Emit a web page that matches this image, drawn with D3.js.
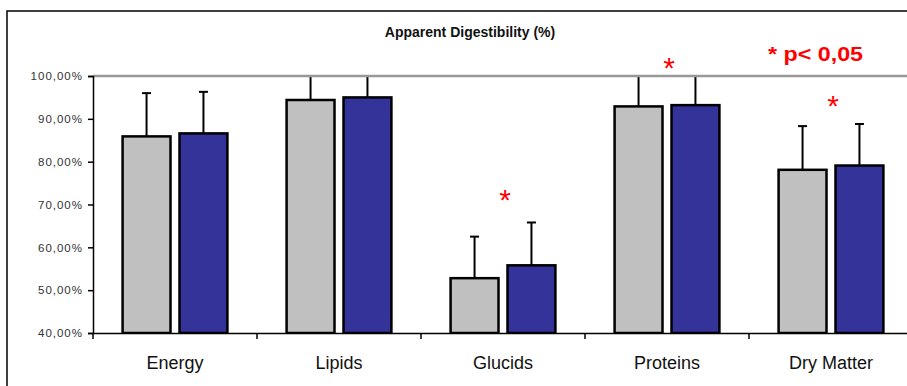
<!DOCTYPE html>
<html>
<head>
<meta charset="utf-8">
<script src="https://cdn.jsdelivr.net/npm/d3@7"></script>
<style>
body { margin: 0; background: #fff; }
svg { display: block; }
</style>
</head>
<body>
<svg width="907" height="386"></svg>
<script>
// values (fractions)
var categories = ["Energy", "Lipids", "Glucids", "Proteins", "Dry Matter"];
var series = ["gray", "blue"];
var grayValues = [0.859, 0.944, 0.528, 0.929, 0.781];
var blueValues = [0.866, 0.950, 0.558, 0.932, 0.791];
var graySD = [0.101, 0.08, 0.097, 0.09, 0.102];
var blueSD = [0.097, 0.08, 0.100, 0.09, 0.097];
// significance marks and the level they sit at
var starCats = ["Glucids", "Proteins", "Dry Matter"];
var starLevels = [0.7245, 1.033, 0.944];
var yTicks = [0.4, 0.5, 0.6, 0.7, 0.8, 0.9, 1.0];

var colors = {gray: "#c0c0c0", blue: "#333399"};
var font = "'Liberation Sans', Arial, sans-serif";

var svg = d3.select("svg");

// outer frame (right and bottom edges fall off the picture)
svg.append("rect")
  .attr("x", 7).attr("y", 11)
  .attr("width", 1000).attr("height", 1000)
  .attr("fill", "none")
  .attr("stroke", "#000")
  .attr("stroke-width", 1.5);

svg.append("text")
  .attr("x", 470).attr("y", 37)
  .attr("text-anchor", "middle")
  .attr("font-family", font)
  .attr("font-weight", "bold")
  .attr("font-size", 14)
  .attr("fill", "#111")
  .text("Apparent Digestibility (%)");

var xScale = d3.scaleBand().domain(categories).range([93, 913]);
var inner = d3.scaleBand().domain(series).range([0, xScale.bandwidth()])
  .paddingInner(0.158).paddingOuter(0.52);
var yScale = d3.scaleLinear().domain([0.4, 1.0]).range([333, 76]);

var locale = d3.formatLocale({decimal: ",", thousands: ".", grouping: [3], currency: ["", ""]});
var pct = locale.format(".2%");

var data = [];
categories.forEach(function(c, i) {
  data.push({cat: c, s: "gray", v: grayValues[i], sd: graySD[i]});
  data.push({cat: c, s: "blue", v: blueValues[i], sd: blueSD[i]});
});

svg.append("defs").append("clipPath").attr("id", "plot")
  .append("rect")
  .attr("x", 93).attr("y", yScale(1.0))
  .attr("width", 830).attr("height", yScale(0.4) - yScale(1.0));

var g = svg.append("g").attr("clip-path", "url(#plot)");

function cx(d) { return xScale(d.cat) + inner(d.s) + inner.bandwidth() / 2; }

// error bars (plus side only)
var err = g.selectAll(".err").data(data).enter().append("g").attr("class", "err");
err.append("line")
  .attr("x1", cx).attr("x2", cx)
  .attr("y1", function(d) { return yScale(d.v); })
  .attr("y2", function(d) { return yScale(d.v + d.sd); })
  .attr("stroke", "#000").attr("stroke-width", 2);
err.append("line")
  .attr("x1", function(d) { return cx(d) - 4.5; })
  .attr("x2", function(d) { return cx(d) + 4.5; })
  .attr("y1", function(d) { return yScale(d.v + d.sd); })
  .attr("y2", function(d) { return yScale(d.v + d.sd); })
  .attr("stroke", "#000").attr("stroke-width", 2);

// top border line at 100%
svg.append("line")
  .attr("x1", 93).attr("x2", 907)
  .attr("y1", yScale(1.0)).attr("y2", yScale(1.0))
  .attr("stroke", "#999").attr("stroke-width", 2.5);

g.selectAll(".bar").data(data).enter().append("rect")
  .attr("class", "bar")
  .attr("x", function(d) { return xScale(d.cat) + inner(d.s); })
  .attr("y", function(d) { return yScale(d.v); })
  .attr("width", inner.bandwidth())
  .attr("height", function(d) { return yScale(0.4) - yScale(d.v); })
  .attr("fill", function(d) { return colors[d.s]; })
  .attr("stroke", "#000")
  .attr("stroke-width", 2.5);

// y axis
var yAxis = svg.append("g")
  .attr("transform", "translate(93,0)")
  .call(d3.axisLeft(yScale).tickValues(yTicks).tickFormat(pct).tickSize(5).tickPadding(5));
yAxis.select(".domain").attr("stroke", "#000").attr("stroke-width", 1.5);
yAxis.selectAll(".tick line").attr("stroke", "#000").attr("stroke-width", 1.5);
yAxis.selectAll("text")
  .attr("font-family", font)
  .attr("font-size", 11.5)
  .attr("letter-spacing", 1)
  .attr("fill", "#333");

// x axis
var xAxis = svg.append("g")
  .attr("transform", "translate(0," + yScale(0.4) + ")")
  .call(d3.axisBottom(xScale).tickSize(0).tickPadding(23));
xAxis.select(".domain").attr("stroke", "#000").attr("stroke-width", 1.5);
xAxis.selectAll("text")
  .attr("font-family", font)
  .attr("font-size", 18)
  .attr("fill", "#111");
xAxis.selectAll(".sep").data(categories).enter().append("line")
  .attr("class", "sep")
  .attr("x1", function(d) { return xScale(d); })
  .attr("x2", function(d) { return xScale(d); })
  .attr("y1", 0).attr("y2", 6)
  .attr("stroke", "#000").attr("stroke-width", 1.5);

// significance stars
svg.selectAll(".star").data(starCats).enter().append("text")
  .attr("class", "star")
  .attr("x", function(d) { return xScale(d) + xScale.bandwidth() / 2 + 2; })
  .attr("y", function(d, i) { return yScale(starLevels[i]) + 16; })
  .attr("text-anchor", "middle")
  .attr("font-family", font)
  .attr("font-size", 30)
  .attr("fill", "#ff0000")
  .text("*");

svg.append("text")
  .attr("x", 768).attr("y", 61)
  .attr("font-family", font)
  .attr("font-weight", "bold")
  .attr("font-size", 20)
  .attr("textLength", 95)
  .attr("lengthAdjust", "spacingAndGlyphs")
  .attr("fill", "#ff0000")
  .text("* p< 0,05");
</script>
</body>
</html>
